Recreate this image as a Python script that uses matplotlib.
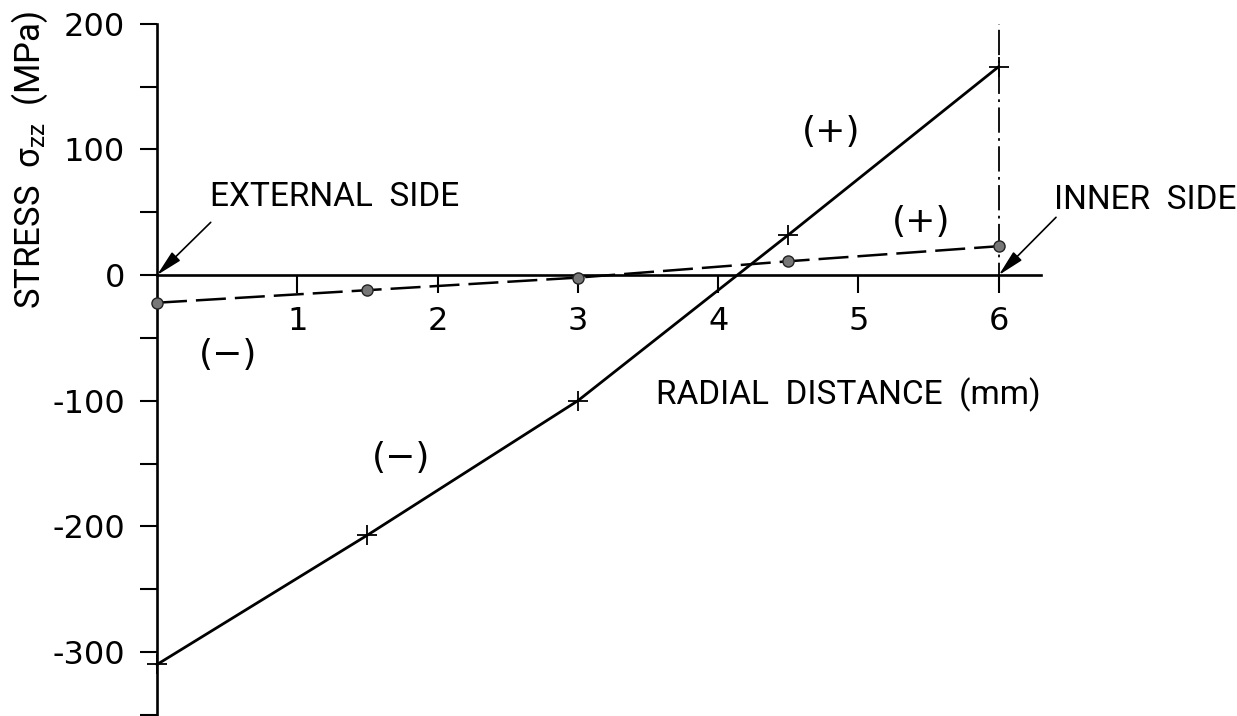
import matplotlib
matplotlib.use('Agg')
import matplotlib.pyplot as plt
from matplotlib.ticker import FixedLocator

# radial position (mm) and axial stress sigma_zz (MPa)
radial = [0.0, 1.5, 3.0, 4.5, 6.0]
stress_solid = [-310, -207, -100, 32, 166]
stress_dashed = [-22, -12, -2, 11, 23]

x_ticks = [1, 2, 3, 4, 5, 6]
y_major = [-300, -200, -100, 0, 100, 200]
y_minor = [-350, -250, -150, -50, 50, 150]

word_font = ['Roboto', 'DejaVu Sans']
num_font = ['DejaVu Sans']
plt.rcParams['axes.unicode_minus'] = False
plt.rcParams['font.family'] = word_font
plt.rcParams['mathtext.default'] = 'regular'

fig = plt.figure(figsize=(12.37, 7.16), dpi=100)
ax = fig.add_axes([0, 0, 1, 1])
ax.set_xlim(-1.119, 7.698)
ax.set_ylim(-351, 219)
ax.patch.set_visible(False)

for s in ('top', 'right'):
    ax.spines[s].set_visible(False)
ax.spines['left'].set_position(('data', 0))
ax.spines['bottom'].set_position(('data', 0))
ax.spines['left'].set_bounds(-350, 200)
ax.spines['bottom'].set_bounds(0, 6.3)
for s in ('left', 'bottom'):
    ax.spines[s].set_linewidth(1.9)

ax.yaxis.set_major_locator(FixedLocator(y_major))
ax.yaxis.set_minor_locator(FixedLocator(y_minor))
ax.xaxis.set_major_locator(FixedLocator(x_ticks))
ax.tick_params(axis='y', which='both', direction='out', length=12, width=1.5,
               labelsize=23, pad=11)
ax.tick_params(axis='x', which='major', direction='out', length=13, width=1.5,
               labelsize=23, pad=9)
for lab in ax.get_xticklabels() + ax.get_yticklabels():
    lab.set_family(num_font)

# the two stress profiles
ax.plot(radial, stress_solid, color='black', lw=2.0, marker='+', ms=14, mew=1.3,
        zorder=3, clip_on=False)
ax.plot(radial, stress_dashed, color='black', lw=1.8, dashes=(12, 3.6), marker='o',
        ms=8, mfc='#777777', mec='#222222', mew=1.0, zorder=3, clip_on=False)

# inner wall position
ax.vlines(radial[-1], -10, y_major[-1], color='black', lw=1.3,
          linestyles=[(0, (14, 3, 1.5, 3))])

arrow = dict(arrowstyle='-|>,head_length=0.8,head_width=0.18', color='black',
             lw=1.2, mutation_scale=20, shrinkA=0, shrinkB=0, facecolor='#555555')
ax.annotate('', xy=(0, 0), xytext=(0.383, 42), arrowprops=arrow)
ax.annotate('', xy=(6, 0), xytext=(6.408, 46), arrowprops=arrow)
ax.text(0.378, 62, 'EXTERNAL  SIDE', fontsize=24, ha='left', va='center')
ax.text(6.393, 60, 'INNER  SIDE', fontsize=24, ha='left', va='center')
ax.text(6.3, -95, 'RADIAL  DISTANCE  (mm)', fontsize=24, ha='right', va='center')

ax.text(4.808, 114, '(+)', family=num_font, fontsize=26, ha='center', va='center')
ax.text(5.45, 42, '(+)', family=num_font, fontsize=26, ha='center', va='center')
ax.text(0.506, -64, '(\u2212)', family=num_font, fontsize=26, ha='center', va='center')
ax.text(1.743, -146, '(\u2212)', family=num_font, fontsize=26, ha='center', va='center')

fig.text(30 / 1237, 1 - 160 / 716, 'STRESS  σ$_{zz}$  (MPa)', fontsize=25,
         rotation=90, ha='center', va='center')

fig.savefig('out.png', dpi=100)
